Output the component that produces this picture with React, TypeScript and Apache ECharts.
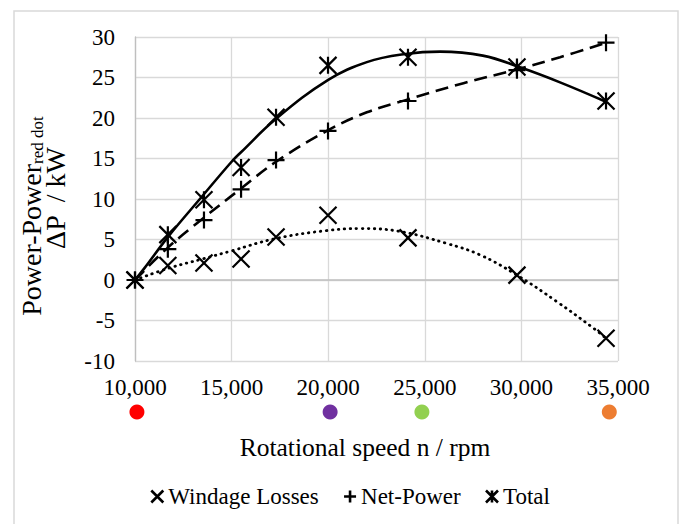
import React, { useEffect, useRef } from 'react';
import * as echarts from 'echarts';

const FONT = 'Liberation Serif';

// measured operating points (rpm)
const rpm = [10000, 11700, 13570, 15490, 17300, 19990, 24130, 29770, 34380];
const windageLosses = [0, 1.8, 2.1, 2.6, 5.3, 8.0, 5.2, 0.6, -7.2];
const netPower = [0, 3.8, 7.4, 11.2, 14.8, 18.4, 22.1, 25.9, 29.3];
const totalPower = [0, 5.6, 9.9, 13.9, 20.1, 26.5, 27.5, 26.3, 22.1];

// trend lines
const windageTrendX = [10000, 11800, 13500, 15000, 17250, 19900, 21650, 23700, 26150, 27860, 29770, 31850, 33700, 34380];
const windageTrendY = [0, 1.5, 2.6, 3.6, 5.1, 6.1, 6.35, 6.0, 4.5, 3.1, 0.6, -2.7, -5.9, -7.2];
const netTrendX = [10000, 11700, 13570, 15490, 17300, 20000, 22000, 24130, 27000, 29770, 32000, 34380];
const netTrendY = [0, 4.0, 7.7, 11.3, 14.6, 18.5, 20.7, 22.3, 24.3, 26.0, 27.5, 29.3];
const totalTrendX = [10000, 10500, 11700, 13500, 15000, 15500, 17300, 20000, 22000, 24000, 25800, 28000, 30000, 32000, 34380];
const totalTrendY = [0, 1.5, 5.3, 10.4, 14.6, 15.8, 19.9, 24.7, 26.9, 27.9, 28.2, 27.7, 26.2, 24.4, 22.0];

// coloured operating-point dots below the axis
const dotRpm = [10100, 20100, 24850, 34550];
const dotColors = ['#ff0000', '#7030a0', '#92d050', '#ed7d31'];

const xTicks = { min: 10000, max: 35000, interval: 5000 };
const yTicks = { min: -10, max: 30, interval: 5 };

const SYM_X = 'path://M0,0L10,10M10,0L0,10';
const SYM_PLUS = 'path://M5,0L5,10M0,5L10,5';
const SYM_STAR = 'path://M0,0L10,10M10,0L0,10M5,0L5,10';

const zip = (xs: number[], ys: number[]) => xs.map((x, i) => [x, ys[i]]);

export default function App() {
  const ref = useRef<HTMLDivElement>(null);
  useEffect(() => {
    const chart = echarts.init(ref.current!, null, { renderer: 'svg' });
    const markerStyle = { color: 'transparent', borderColor: '#000', borderWidth: 2.2, opacity: 1 };
    const option: any = {
      animation: false,
      backgroundColor: '#ffffff',
      textStyle: { fontFamily: FONT },
      grid: [
        { left: 135, right: 63, top: 37, bottom: 163 },
        { left: 135, right: 63, top: 404, height: 16 },
      ],
      xAxis: [
        {
          type: 'value',
          ...xTicks,
          axisLine: { show: true, lineStyle: { color: '#bfbfbf', width: 1.5 } },
          axisTick: { show: false },
          splitLine: { show: true, lineStyle: { color: '#d9d9d9', width: 1.3 } },
          axisLabel: {
            color: '#000',
            fontFamily: FONT,
            fontSize: 23,
            margin: 15,
            formatter: (v: number) => v.toLocaleString('en-US'),
          },
        },
        { gridIndex: 1, type: 'value', ...xTicks, show: false },
      ],
      yAxis: [
        {
          type: 'value',
          ...yTicks,
          axisLine: { show: true, lineStyle: { color: '#bfbfbf', width: 1.3 } },
          axisTick: { show: false },
          splitLine: { show: true, lineStyle: { color: '#d9d9d9', width: 1.3 } },
          axisLabel: { color: '#000', fontFamily: FONT, fontSize: 23, margin: 20 },
        },
        { gridIndex: 1, type: 'value', min: 0, max: 1, show: false },
      ],
      legend: {
        data: ['Windage Losses', 'Net-Power', 'Total'],
        left: 145,
        top: 480,
        itemWidth: 12,
        itemHeight: 12,
        itemGap: 24,
        textStyle: { fontFamily: FONT, fontSize: 23, color: '#000' },
        itemStyle: { borderWidth: 2.6, opacity: 1 },
      },
      graphic: [
        {
          type: 'rect',
          silent: true,
          shape: { x: 14, y: 11, width: 664, height: 540 },
          style: { fill: 'none', stroke: '#d9d9d9', lineWidth: 1.5 },
        },
        {
          type: 'text',
          x: 365,
          y: 447,
          style: {
            text: 'Rotational speed n / rpm',
            fontFamily: FONT,
            fontSize: 25.5,
            fill: '#000',
            align: 'center',
            verticalAlign: 'middle',
          },
        },
        {
          type: 'text',
          x: 31,
          y: 216,
          rotation: Math.PI / 2,
          style: {
            text: '{a|Power-Power}{b|red dot}',
            align: 'center',
            verticalAlign: 'middle',
            rich: {
              a: { fontFamily: FONT, fontSize: 28, fill: '#000', lineHeight: 30 },
              b: { fontFamily: FONT, fontSize: 17, fill: '#000', verticalAlign: 'bottom', lineHeight: 20 },
            },
          },
        },
        {
          type: 'text',
          x: 55,
          y: 198,
          rotation: Math.PI / 2,
          style: {
            text: 'ΔP  / kW',
            fontFamily: FONT,
            fontSize: 28,
            fill: '#000',
            align: 'center',
            verticalAlign: 'middle',
          },
        },
      ],
      series: [
        {
          name: 'Windage trend',
          type: 'line',
          data: zip(windageTrendX, windageTrendY),
          smooth: 0.4,
          showSymbol: false,
          silent: true,
          z: 1,
          lineStyle: { color: '#000', width: 2.8, type: [0.5, 5.5], cap: 'round' },
        },
        {
          name: 'Net trend',
          type: 'line',
          data: zip(netTrendX, netTrendY),
          smooth: 0.4,
          showSymbol: false,
          silent: true,
          z: 1,
          lineStyle: { color: '#000', width: 2.6, type: [13, 7] },
        },
        {
          name: 'Total trend',
          type: 'line',
          data: zip(totalTrendX, totalTrendY),
          smooth: 0.4,
          showSymbol: false,
          silent: true,
          z: 1,
          lineStyle: { color: '#000', width: 2.6, type: 'solid' },
        },
        {
          name: 'Windage Losses',
          type: 'scatter',
          data: zip(rpm, windageLosses),
          symbol: SYM_X,
          symbolSize: 17,
          itemStyle: markerStyle,
          z: 3,
        },
        {
          name: 'Net-Power',
          type: 'scatter',
          data: zip(rpm, netPower),
          symbol: SYM_PLUS,
          symbolSize: 17,
          itemStyle: markerStyle,
          z: 3,
        },
        {
          name: 'Total',
          type: 'scatter',
          data: zip(rpm, totalPower),
          symbol: SYM_STAR,
          symbolSize: 17,
          itemStyle: markerStyle,
          z: 3,
        },
        {
          name: 'Operating points',
          type: 'scatter',
          xAxisIndex: 1,
          yAxisIndex: 1,
          symbol: 'circle',
          symbolSize: 15,
          data: dotRpm.map((x, i) => ({ value: [x, 0.5], itemStyle: { color: dotColors[i], opacity: 1 } })),
          silent: true,
        },
      ],
    };
    chart.setOption(option);
    return () => chart.dispose();
  }, []);
  return (
    <>
      <style>{`#root svg text { font-family: "Liberation Serif", serif !important; }`}</style>
      <div
        ref={ref}
        style={{ position: 'fixed', left: 0, top: 0, width: 681, height: 524, background: '#fff' }}
      />
    </>
  );
}
